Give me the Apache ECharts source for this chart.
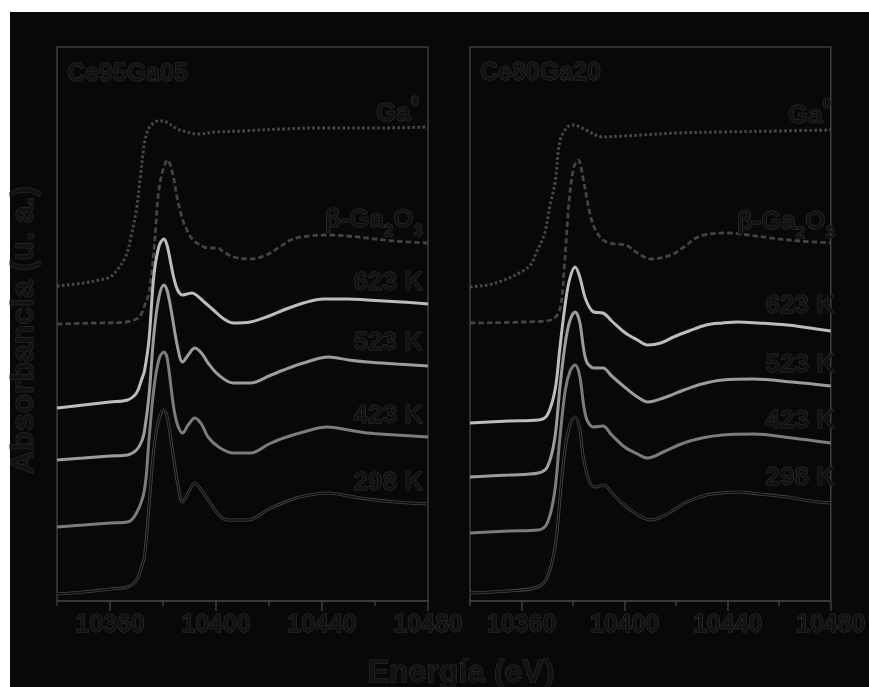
<!DOCTYPE html>
<html>
<head>
<meta charset="utf-8">
<script src="https://cdn.jsdelivr.net/npm/echarts@6/dist/echarts.min.js"></script>
<style>
html,body{margin:0;padding:0;background:#ffffff;}
#bg{position:absolute;left:10px;top:12px;right:0;bottom:0;background:#0a0806;}
#chart{position:absolute;left:0;top:0;width:869px;height:687px;}
</style>
</head>
<body>
<div id="bg"></div>
<div id="chart"></div>
<script>
// ---- data (energy eV, offset absorbance in arbitrary units) ----
const xMajorTicks = [10360, 10400, 10440, 10480];
const xMinorTicks = [10340, 10380, 10420, 10460];
const panelTitles = ['Ce95Ga05', 'Ce80Ga20'];
const seriesNames = ['Ga0', 'β-Ga2O3', '623 K', '523 K', '423 K', '298 K'];

// Ce95Ga05 panel
const ce95_ga0 = [[10340,315],[10350,318],[10356,321],[10360,324],[10363,332],[10366,345],[10368,365],[10370,392],[10371.5,425],[10373,458],[10374.5,472],[10376,477],[10378,480],[10380,480],[10382.5,477],[10385.5,472],[10389,469],[10393,467],[10400,469],[10410,470],[10425,472],[10440,473],[10460,473],[10480,474]];
const ce95_b = [[10340,277],[10355,278],[10366,279],[10370,282],[10371.6,286],[10373,295],[10374.7,308],[10375.6,325],[10376.5,348],[10377.3,375],[10378,401],[10379,420],[10380,431],[10381.7,441],[10383.6,428],[10385.5,401],[10387,385],[10388.5,374],[10391,362],[10394,356],[10397,353],[10400.5,353],[10403,349],[10406.6,344],[10413,342],[10419,346],[10424,354],[10429,362],[10435,365],[10442,366],[10450,365],[10457,363],[10467,360],[10480,358]];
const ce95_623 = [[10340,193],[10350,196],[10360,199],[10366.6,201],[10370,208],[10372,222],[10373,230],[10374.7,261],[10376.5,324],[10378.4,354],[10380.3,362],[10381.5,356],[10383,337],[10384,324],[10385.5,311],[10387.4,306],[10389,307],[10391,308],[10393,305],[10396,298],[10399,291],[10403,282],[10406.6,278],[10413,279],[10420,285],[10425.5,291],[10433,298],[10440.6,302],[10450,302],[10457,301],[10470,299],[10480,297]];
const ce95_523 = [[10340,141],[10350,143],[10360,145],[10366.6,146],[10370,151],[10372,160],[10373,170],[10374.7,205],[10376.5,265],[10378.4,303],[10380.3,316],[10381.5,311],[10383,292],[10385.5,254],[10387.4,239],[10389.5,246],[10392,253],[10394.5,248],[10397,238],[10401,226],[10406.6,218],[10413,218],[10420,225],[10425.5,231],[10433,238],[10442.5,244],[10450,241],[10457,239],[10468,237],[10480,235]];
const ce95_423 = [[10340,74],[10350,76],[10360,78],[10366.6,79],[10370,88],[10373,111],[10374.7,161],[10376.5,211],[10378.4,241],[10380.3,249],[10381.5,244],[10384,194],[10385.5,176],[10387.4,168],[10389.5,176],[10392,183],[10394.5,177],[10397,164],[10401,154],[10406.6,148],[10413,148],[10420,157],[10425.5,163],[10433,169],[10442,174],[10450,171],[10457,168],[10468,166],[10480,164]];
const ce95_298 = [[10340,7],[10350,9],[10360,12],[10366.6,14],[10370,21],[10372,35],[10373,44],[10374.7,94],[10376.5,151],[10378.4,181],[10380.3,191],[10381.5,185],[10383,161],[10385.5,118],[10387.4,99],[10389.5,108],[10392,118],[10394.5,111],[10397,101],[10400.5,88],[10404,81],[10412,81],[10420,92],[10428,101],[10435,106],[10442.5,108],[10450,105],[10457,102],[10468,99],[10480,97]];

// Ce80Ga20 panel
const ce80_ga0 = [[10340,314],[10350,318],[10362.7,334],[10366,350],[10369,368],[10371,395],[10373,418],[10375,461],[10377.8,474],[10380,476],[10385,471],[10391.6,464],[10400,465],[10406.7,466],[10420,468],[10438,469],[10460,470],[10480,471]];
const ce80_b = [[10340,278],[10360,279],[10371.4,281],[10374.8,291],[10376.6,334],[10378.5,401],[10380.3,434],[10382,441],[10384,421],[10386.5,388],[10388.5,372],[10391.6,361],[10396,357],[10400.3,356],[10405,348],[10410.3,342],[10418,346],[10423,354],[10427.8,363],[10433,367],[10440.5,368],[10448,366],[10456.8,363],[10468,360],[10480,358]];
const ce80_623 = [[10340,178],[10355,180],[10366.5,181],[10370,186],[10373,211],[10374.8,251],[10376.6,290],[10378.5,320],[10380.8,334],[10382.5,325],[10385,301],[10388,289],[10391.6,288],[10395,280],[10400.3,268],[10405,261],[10409,256],[10414,258],[10419,264],[10425,270],[10431.6,276],[10438,278],[10444,279],[10452,278],[10463,276],[10472,273],[10480,270]];
const ce80_523 = [[10340,124],[10355,126],[10366.5,128],[10370,134],[10372.8,161],[10374.8,211],[10376.6,251],[10378.5,278],[10380.8,289],[10382.5,280],[10385,241],[10388,233],[10391.6,233],[10395,225],[10400,214],[10405,204],[10409,199],[10415,203],[10423,211],[10430,217],[10438,221],[10450,222],[10465,219],[10480,215]];
const ce80_423 = [[10340,68],[10355,70],[10366.5,71],[10370,78],[10372.8,108],[10374.8,161],[10377,211],[10379,231],[10380.8,236],[10382.5,226],[10385,184],[10388,174],[10391.6,175],[10395,166],[10400,154],[10405,147],[10409,143],[10415,149],[10423,158],[10430,163],[10438,166],[10450,167],[10465,163],[10480,158]];
const ce80_298 = [[10340,8],[10355,10],[10365,13],[10369.5,21],[10373,54],[10375.2,111],[10377,154],[10379,178],[10380.8,184],[10382.5,173],[10384,144],[10386.5,118],[10389,114],[10392,116],[10394.5,110],[10397.7,101],[10404,88],[10410.3,81],[10415,85],[10419,91],[10425,100],[10431.6,106],[10438,108],[10444,109],[10452,107],[10463,104],[10472,100],[10480,98]];

const panels = [
  [ce95_ga0, ce95_b, ce95_623, ce95_523, ce95_423, ce95_298],
  [ce80_ga0, ce80_b, ce80_623, ce80_523, ce80_423, ce80_298]
];

// ---- styles ----
const FONT = '"Liberation Sans", Arial, sans-serif';
const TXT_FILL = '#121212';
const TXT_STROKE = '#333333';
const FRAME = '#3d3d3d';
const lineStyles = [
  {color:'#474747', width:3, type:[2.6,2.4], cap:'butt'},
  {color:'#434343', width:2.8, type:[5.5,3]},
  {color:'#bdbdbd', width:3},
  {color:'#9c9c9c', width:3},
  {color:'#7c7c7c', width:3},
  {color:'#444444', width:3}
];

const chart = echarts.init(document.getElementById('chart'));

const grids = [
  {left:57, top:47, width:371, height:554},
  {left:470, top:47, width:373, height:554}
].map(g => Object.assign(g, {show:true, borderColor:FRAME, borderWidth:1.5, backgroundColor:'transparent'}));

const xAxes = [], yAxes = [], series = [];
[0,1].forEach(i => {
  xAxes.push({
    type:'value', gridIndex:i, min:10340, max:10480, interval:20,
    axisLine:{show:true, lineStyle:{color:FRAME, width:1.5}},
    axisTick:{show:true, length:10, customValues:xMajorTicks, lineStyle:{color:FRAME, width:1.5}},
    axisLabel:{show:true, customValues:xMajorTicks, margin:12, formatter:v => String(v),
      color:TXT_FILL, textBorderColor:TXT_STROKE, textBorderWidth:1, fontFamily:FONT, fontWeight:'bold', fontSize:25},
    splitLine:{show:false}
  });
  xAxes.push({
    type:'value', gridIndex:i, min:10340, max:10480, interval:20, position:'bottom',
    axisLine:{show:false},
    axisTick:{show:true, length:5, customValues:xMinorTicks, lineStyle:{color:FRAME, width:1.5}},
    axisLabel:{show:false},
    splitLine:{show:false}
  });
  yAxes.push({
    type:'value', gridIndex:i, min:0, max:554,
    axisLine:{show:false}, axisTick:{show:false}, axisLabel:{show:false}, splitLine:{show:false}
  });
  panels[i].forEach((d, k) => {
    series.push({
      type:'line', name:seriesNames[k], xAxisIndex:i*2, yAxisIndex:i, data:d,
      smooth:0.35, showSymbol:false, symbol:'none', lineStyle:lineStyles[k], z:2+k, silent:true
    });
  });
  // dark core for the 298 K curve
  series.push({
    type:'line', name:'298 K core', xAxisIndex:i*2, yAxisIndex:i, data:panels[i][5],
    smooth:0.35, showSymbol:false, symbol:'none', lineStyle:{color:'#0e0e0e', width:1.3}, z:10, silent:true
  });
});

function txt(x, y, text, opts) {
  return Object.assign({
    type:'text', x:x, y:y, silent:true, z:20,
    style:Object.assign({
      text:text, fill:TXT_FILL, stroke:TXT_STROKE, lineWidth:1,
      font:'bold 26px ' + FONT, align:'right', verticalAlign:'middle',
      rich:{
        m:{fontSize:26, fontWeight:'bold', fontFamily:FONT, fill:TXT_FILL, stroke:TXT_STROKE, lineWidth:1, lineHeight:26},
        sub:{fontSize:17, fontWeight:'bold', fontFamily:FONT, fill:TXT_FILL, stroke:TXT_STROKE, lineWidth:1, lineHeight:40, verticalAlign:'bottom'},
        sup:{fontSize:15, fontWeight:'bold', fontFamily:FONT, fill:TXT_FILL, stroke:TXT_STROKE, lineWidth:1, lineHeight:40, verticalAlign:'top'}
      }
    }, opts || {})
  });
}

const labelText = ['{m|Ga}{sup|0}', '{m|β-Ga}{sub|2}{m|O}{sub|3}', '623 K', '523 K', '423 K', '298 K'];
const labelRight = [419, 831];
const labelY = [
  [114, 220, 283, 343, 416, 483],
  [116, 222, 306, 365, 421, 478]
];

const graphics = [];
[0,1].forEach(i => {
  labelText.forEach((t, k) => {
    const r = (k === 0) ? labelRight[i] : labelRight[i] + 4;
    graphics.push(txt(r, labelY[i][k], t));
  });
});
graphics.push(txt(67, 74, panelTitles[0], {align:'left', font:'bold 25px ' + FONT}));
graphics.push(txt(480, 73, panelTitles[1], {align:'left', font:'bold 25px ' + FONT}));
graphics.push(txt(461, 673, 'Energía (eV)', {align:'center', font:'bold 32px ' + FONT}));
graphics.push(Object.assign(txt(24, 330, 'Absorbancia (u. a.)', {align:'center', font:'bold 32px ' + FONT}), {rotation:Math.PI/2}));

chart.setOption({
  animation:false,
  backgroundColor:'transparent',
  grid:grids,
  xAxis:xAxes,
  yAxis:yAxes,
  series:series,
  graphic:{elements:graphics}
});
</script>
</body>
</html>
